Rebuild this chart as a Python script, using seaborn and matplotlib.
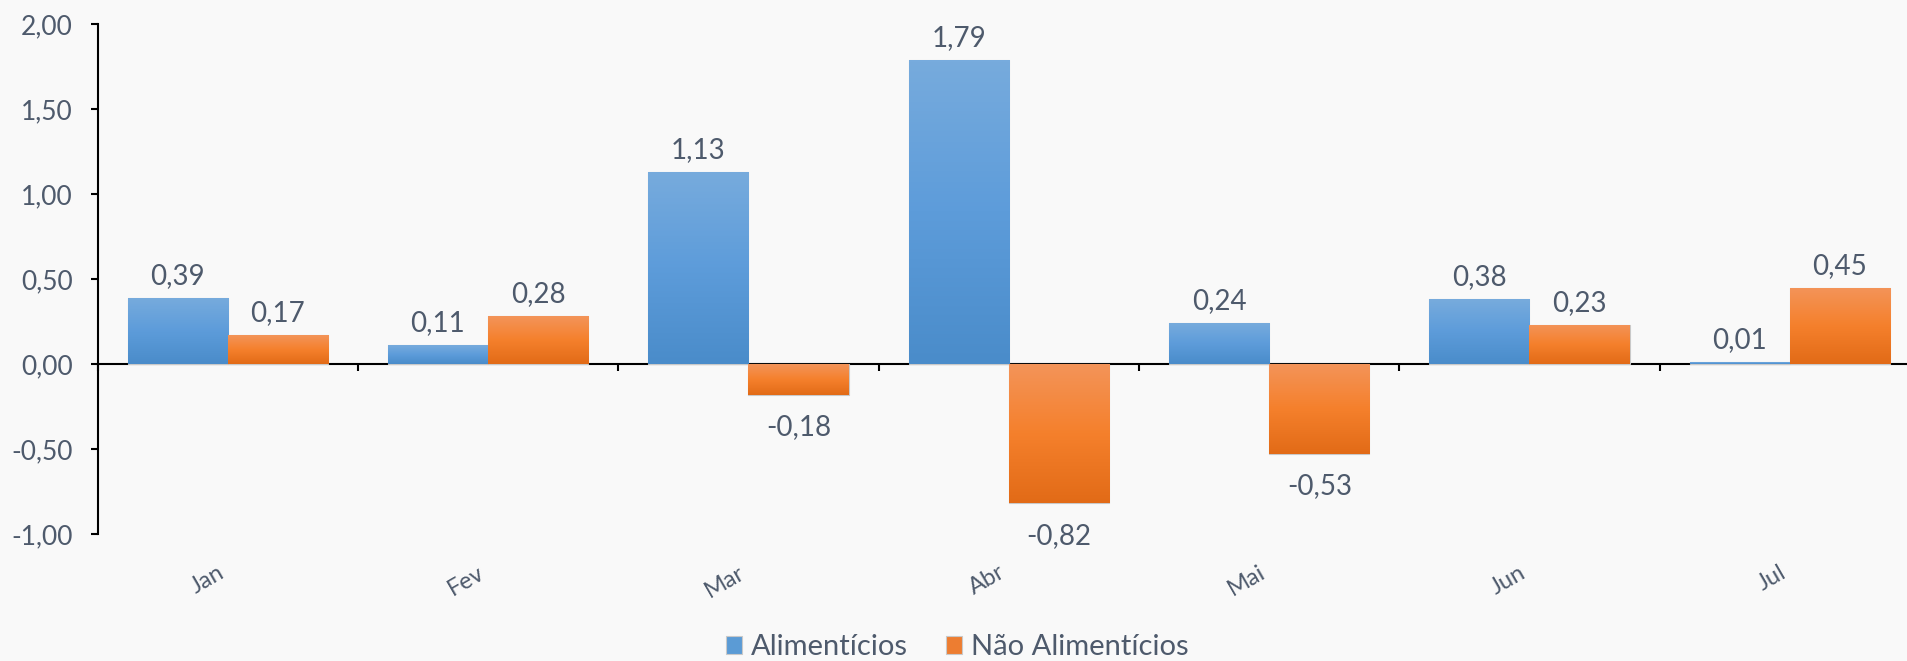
import numpy as np
import pandas as pd
import seaborn as sns
import matplotlib.pyplot as plt
from matplotlib.colors import LinearSegmentedColormap, to_hex
from matplotlib.ticker import FuncFormatter

meses = ["Jan", "Fev", "Mar", "Abr", "Mai", "Jun", "Jul"]
alimenticios = [0.39, 0.11, 1.13, 1.79, 0.24, 0.38, 0.01]
nao_alimenticios = [0.17, 0.28, -0.18, -0.82, -0.53, 0.23, 0.45]
grupos = ["Alimentícios", "Não Alimentícios"]

df = pd.DataFrame({
    "mes": meses * 2,
    "valor": alimenticios + nao_alimenticios,
    "grupo": [grupos[0]] * len(meses) + [grupos[1]] * len(meses),
})

sns.set_theme(style="white")
plt.rcParams["font.family"] = ["Lato", "DejaVu Sans"]

txt = "#4e5a6c"
bg = "#f9f9f9"
cores = {grupos[0]: "#5b9bd5", grupos[1]: "#ed7d31"}
gradientes = {
    to_hex(cores[grupos[0]]): ["#77abdd", "#5d9cda", "#4a8cca"],
    to_hex(cores[grupos[1]]): ["#f39459", "#f5802c", "#e26b17"],
}

fig = plt.figure(figsize=(19.07, 6.61), dpi=100, facecolor=bg)
ax = fig.add_axes([97.6 / 1907, 1 - 534 / 661, (1920 - 97.6) / 1907, (534 - 24) / 661])
ax.set_facecolor(bg)

sns.barplot(data=df, x="mes", y="valor", hue="grupo", palette=cores, width=0.77,
            saturation=1, errorbar=None, edgecolor="#c9c9c9", linewidth=0.8, ax=ax)

handles, labels = ax.get_legend_handles_labels()
ax.get_legend().remove()

# gradient fill inside each bar (light at top, dark at bottom)
for p in list(ax.patches):
    cor = to_hex(p.get_facecolor())
    if cor not in gradientes:
        continue
    x0, y0 = p.get_x(), p.get_y()
    w, h = p.get_width(), p.get_height()
    lo, hi = min(y0, y0 + h), max(y0, y0 + h)
    if hi - lo < 1e-9:
        continue
    cmap = LinearSegmentedColormap.from_list("g", gradientes[cor])
    grad = np.linspace(0, 1, 100).reshape(-1, 1)
    im = ax.imshow(grad, cmap=cmap, aspect="auto", extent=[x0, x0 + w, lo, hi],
                   origin="upper", zorder=p.get_zorder() + 0.1, interpolation="bilinear")
    im.set_clip_path(p)

# data labels
for cont in ax.containers:
    for barra, v in zip(cont, cont.datavalues):
        xc = barra.get_x() + barra.get_width() / 2
        rotulo = f"{v:.2f}".replace(".", ",")
        if v >= 0:
            ax.annotate(rotulo, (xc, v), xytext=(0, 10), textcoords="offset points",
                        ha="center", va="baseline", fontsize=20, color=txt)
        else:
            ax.annotate(rotulo, (xc, v), xytext=(0, -14), textcoords="offset points",
                        ha="center", va="top", fontsize=20, color=txt)

ax.set_xlim(-0.5, 6.5)
ax.set_ylim(-1, 2)
ax.set_yticks(np.arange(-1, 2.01, 0.5))
ax.yaxis.set_major_formatter(FuncFormatter(lambda v, _: f"{v:.2f}".replace(".", ",")))
ax.tick_params(axis="y", direction="out", length=5, width=1.5, color="black",
               labelsize=19, labelcolor=txt, pad=13, left=True)
ax.tick_params(axis="x", length=0, labelsize=17, labelcolor=txt, pad=20)
plt.setp(ax.get_xticklabels(), rotation=30, ha="right")
ax.set_xlabel("")
ax.set_ylabel("")

for s in ["top", "right", "bottom"]:
    ax.spines[s].set_visible(False)
ax.spines["left"].set_color("black")
ax.spines["left"].set_linewidth(1.5)

# zero line with category boundary ticks
zero = ax.secondary_xaxis(1 / 3)
zero.set_xticks(np.arange(-0.5, 7, 1))
zero.set_xticklabels([])
zero.tick_params(direction="out", length=5, width=1.5, color="black")
zero.spines["bottom"].set_color("black")
zero.spines["bottom"].set_linewidth(1.5)

fig.legend(handles, labels, loc="center", bbox_to_anchor=(0.502, 0.021), ncol=2,
           frameon=False, fontsize=21, labelcolor=txt, handlelength=0.55,
           handleheight=0.55, handletextpad=0.3, columnspacing=1.3)

fig.savefig("out.png", dpi=100, facecolor=bg)
